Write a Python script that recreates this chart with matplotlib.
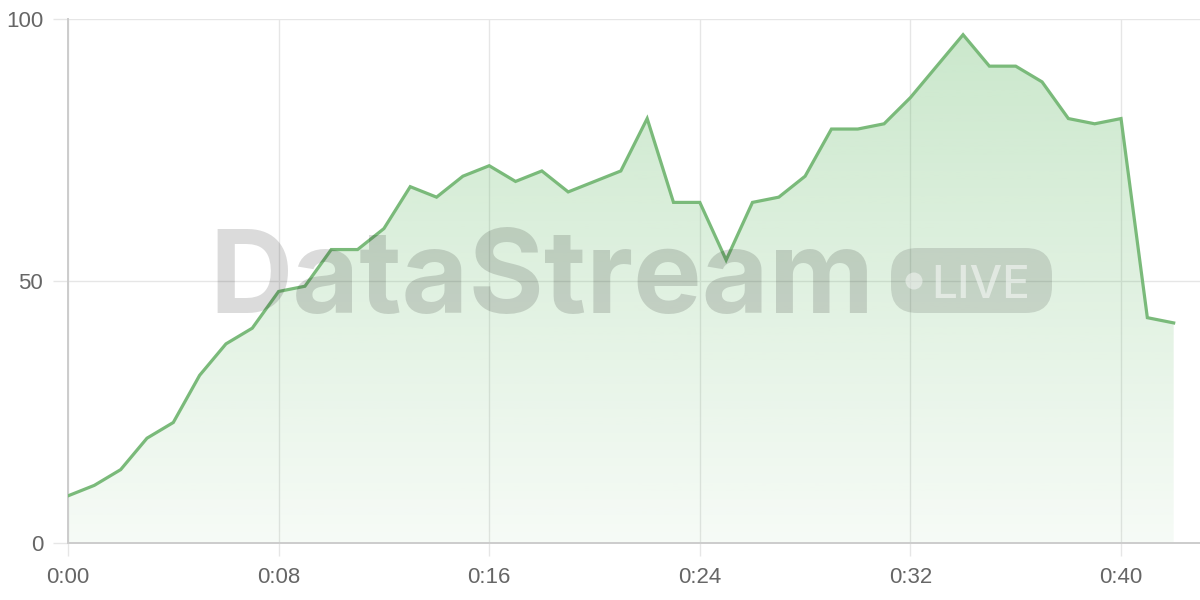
import numpy as np
import matplotlib
matplotlib.use("Agg")
import matplotlib.pyplot as plt
from matplotlib.patches import Polygon, FancyBboxPatch, Ellipse

# ---- data ----
minutes = list(range(43))
values = [9, 11, 14, 20, 23, 32, 38, 41, 48, 49, 56, 56, 60, 68, 66, 70, 72, 69, 71, 67,
          69, 71, 81, 65, 65, 54, 65, 66, 70, 79, 79, 80, 85, 91, 97, 91, 91, 88, 81, 80,
          81, 43, 42]
x_ticks = [0, 8, 16, 24, 32, 40]
x_tick_labels = ["0:00", "0:08", "0:16", "0:24", "0:32", "0:40"]
y_ticks = [0, 50, 100]
y_tick_labels = ["0", "50", "100"]

line_color = "#7aba7a"
base_rgb = np.array([76, 175, 80]) / 255.0
grid_color = "#e6e6e6"
axis_color = "#cccccc"
label_color = "#666666"

plt.rcParams['font.family'] = ['Liberation Sans', 'DejaVu Sans']

W, H = 1200, 600
fig = plt.figure(figsize=(W / 100, H / 100), dpi=100)
ax = fig.add_axes([68 / W, (H - 543) / H, (W - 68) / W, (543 - 19) / H])
ax.set_xlim(0, 43)
ax.set_ylim(0, 100)

x = np.array(minutes, dtype=float)
y = np.array(values, dtype=float)

# gradient fill
n = 256
alphas = np.linspace(0.30, 0.05, n)[:, None]
grad = np.zeros((n, 1, 4))
grad[..., 0] = base_rgb[0]
grad[..., 1] = base_rgb[1]
grad[..., 2] = base_rgb[2]
grad[..., 3] = alphas
im = ax.imshow(grad, aspect='auto', extent=[0, 43, 0, 100], origin='upper', zorder=1,
               interpolation='bilinear')
poly_xy = np.vstack([np.column_stack([x, y]), [[x[-1], 0], [x[0], 0]]])
poly = Polygon(poly_xy, closed=True, facecolor='none', edgecolor='none')
ax.add_patch(poly)
im.set_clip_path(poly)

ax.plot(x, y, color=line_color, lw=2.3, zorder=5, solid_joinstyle='miter')

# grid and axes styling
ax.set_xticks(x_ticks)
ax.set_xticklabels(x_tick_labels)
ax.set_yticks(y_ticks)
ax.set_yticklabels(y_tick_labels)
ax.grid(True, color=grid_color, lw=1.0, zorder=0)
ax.set_axisbelow(True)
for s in ["top", "right"]:
    ax.spines[s].set_visible(False)
for s in ["left", "bottom"]:
    ax.spines[s].set_color(axis_color)
    ax.spines[s].set_linewidth(1.4)
ax.tick_params(axis='both', colors=grid_color, labelcolor=label_color, labelsize=16,
               width=1.0)
ax.tick_params(axis='y', length=11, pad=7)
ax.tick_params(axis='x', length=9, pad=8)

# watermark
fig.text(209 / W, (H - 313) / H, "DataStream", fontsize=83, fontweight='bold',
         family=['Inter', 'DejaVu Sans'], color='black', alpha=0.14, ha='left',
         va='baseline', zorder=3)
badge = FancyBboxPatch((891 / W, (H - 313) / H), 161 / W, 65 / H,
                       boxstyle="round,pad=0,rounding_size=0.022",
                       transform=fig.transFigure, facecolor='black', alpha=0.12,
                       edgecolor='none', zorder=3, mutation_aspect=2.0)
fig.patches.append(badge)
dot = Ellipse((914 / W, (H - 281) / H), 17 / W, 17 / H,
              transform=fig.transFigure, facecolor='white',
              alpha=0.45, edgecolor='none', zorder=4)
fig.patches.append(dot)
fig.text(931 / W, (H - 298) / H, "LIVE", fontsize=33, fontweight='medium',
         family=['Inter', 'DejaVu Sans'], color='white', alpha=0.5, ha='left',
         va='baseline', zorder=4)

fig.savefig("out.png", dpi=100)
